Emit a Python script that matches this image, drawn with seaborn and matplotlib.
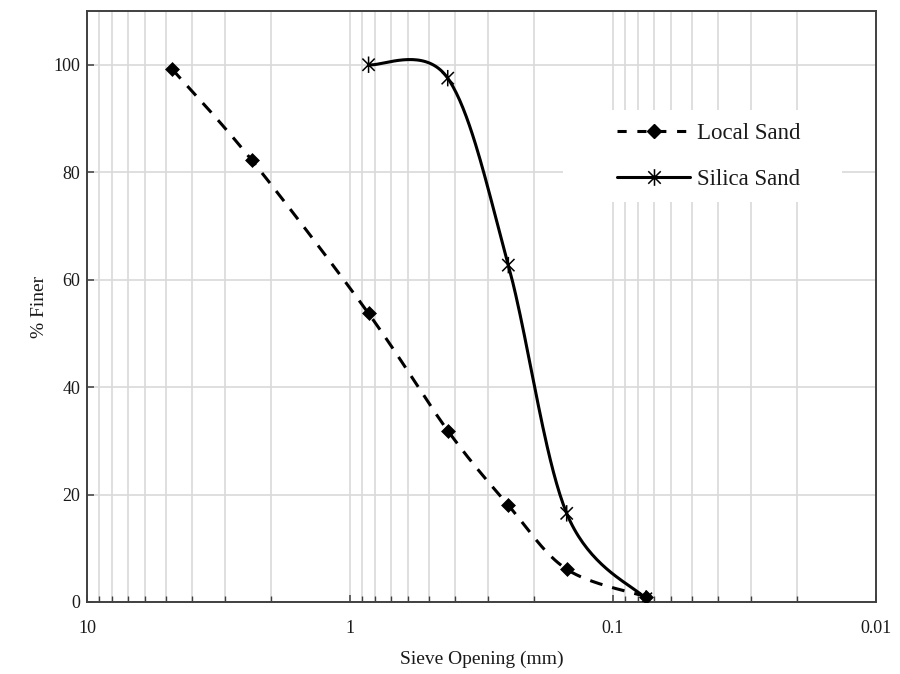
import numpy as np
import matplotlib
matplotlib.use("Agg")
import matplotlib.pyplot as plt
from matplotlib.path import Path
from matplotlib.lines import Line2D
from matplotlib.patches import Rectangle
from matplotlib.ticker import FixedLocator, LogLocator, NullFormatter
import seaborn as sns

# Sieve analysis results
local_size = [4.75, 2.36, 0.85, 0.425, 0.25, 0.15, 0.075]
local_finer = [99.2, 82.2, 53.7, 31.9, 18.0, 6.1, 1.0]
silica_size = [0.85, 0.425, 0.25, 0.15, 0.075]
silica_finer = [100.0, 97.5, 62.7, 16.5, 0.6]

x_ticks = [10, 1, 0.1, 0.01]
x_tick_labels = ["10", "1", "0.1", "0.01"]
y_ticks = [0, 20, 40, 60, 80, 100]

sns.set_theme(style="white")
plt.rcParams['font.family'] = ['Liberation Serif', 'DejaVu Serif']

TEXT = '#1a1a1a'
LW = 2.2
W, H = 900, 674
fig = plt.figure(figsize=(W / 100, H / 100), dpi=100)
ax = fig.add_axes([87 / W, (H - 602) / H, (876 - 87) / W, (602 - 11) / H])
ax.set_xscale('log')
ax.set_xlim(10, 0.01)
ax.set_ylim(0, 110)

# grid: major + minor verticals, major horizontals
ax.xaxis.set_major_locator(FixedLocator(x_ticks))
ax.xaxis.set_minor_locator(LogLocator(base=10, subs=np.arange(2, 10)))
ax.xaxis.set_minor_formatter(NullFormatter())
ax.set_xticklabels(x_tick_labels)
ax.yaxis.set_major_locator(FixedLocator(y_ticks))
ax.set_axisbelow(True)
ax.grid(True, which='major', axis='both', color='#d9d9d9', lw=1.2)
ax.grid(True, which='minor', axis='x', color='#d9d9d9', lw=1.2)

for s in ax.spines.values():
    s.set_color('#404040')
    s.set_linewidth(1.4)
ax.tick_params(axis='both', which='major', direction='in', length=5, width=1.1,
               color='#404040', labelsize=13, labelcolor=TEXT, pad=5,
               bottom=True, left=True)
ax.tick_params(axis='x', which='major', pad=13)
ax.tick_params(axis='x', which='minor', direction='in', length=4, width=1.0,
               color='#404040', bottom=True)


def smooth_curve(xs, ys, n=40):
    """Bezier smoothing through the points, computed in display space."""
    pts = ax.transData.transform(np.column_stack([xs, ys]))
    m = len(pts)
    out = [pts[0]]
    t = np.linspace(0, 1, n)[1:, None]
    for i in range(m - 1):
        p0 = pts[i - 1] if i > 0 else pts[i]
        p1, p2 = pts[i], pts[i + 1]
        p3 = pts[i + 2] if i + 2 < m else pts[i + 1]
        c1 = p1 + (p2 - p0) / 6
        c2 = p2 - (p3 - p1) / 6
        seg = ((1 - t) ** 3) * p1 + 3 * ((1 - t) ** 2) * t * c1 \
            + 3 * (1 - t) * t ** 2 * c2 + t ** 3 * p2
        out.extend(seg)
    data = ax.transData.inverted().transform(np.array(out))
    return data[:, 0], data[:, 1]


# asterisk-style marker: vertical stroke plus an X
star = Path([(0, -1), (0, 1), (-0.75, -0.75), (0.75, 0.75), (-0.75, 0.75), (0.75, -0.75)],
            [Path.MOVETO, Path.LINETO, Path.MOVETO, Path.LINETO, Path.MOVETO, Path.LINETO])

dash = (0, (4.2, 3.3))
lx, ly = smooth_curve(local_size, local_finer)
sns.lineplot(x=lx, y=ly, ax=ax, color='black', lw=LW, linestyle=dash,
             sort=False, estimator=None, dash_capstyle='butt', zorder=3)
sx, sy = smooth_curve(silica_size, silica_finer)
sns.lineplot(x=sx, y=sy, ax=ax, color='black', lw=LW,
             sort=False, estimator=None, zorder=3)

sns.scatterplot(x=local_size, y=local_finer, ax=ax, marker='D', s=50,
                color='black', edgecolor='black', linewidth=0.5, zorder=4)
sns.scatterplot(x=silica_size, y=silica_finer, ax=ax, marker=star, s=140,
                color='black', edgecolor='black', facecolor='none', linewidth=1.1, zorder=4)

ax.set_xlabel("Sieve Opening (mm)", fontsize=14, color=TEXT, labelpad=10)
ax.set_ylabel("% Finer", fontsize=14, color=TEXT, labelpad=4)

# white background behind the legend
fig_to_ax = ax.transAxes.inverted()
(x0, y0) = fig_to_ax.transform(fig.transFigure.transform((563 / W, (H - 202) / H)))
(x1, y1) = fig_to_ax.transform(fig.transFigure.transform((842 / W, (H - 110) / H)))
ax.add_patch(Rectangle((x0, y0), x1 - x0, y1 - y0, transform=ax.transAxes,
                       facecolor='white', edgecolor='none', zorder=2))

handles = [
    Line2D([], [], color='black', lw=LW, linestyle=(0, (3, 3.5)), marker='D',
           markersize=7, dash_capstyle='butt'),
    Line2D([], [], color='black', lw=LW, marker=star, markersize=12,
           markeredgewidth=1.1, markerfacecolor='none'),
]
leg = ax.legend(handles, ["Local Sand", "Silica Sand"], loc='upper left',
                bbox_to_anchor=((617 - 87) / 789, (602 - 123) / 591),
                frameon=False, fontsize=16.5, handlelength=3.2, handletextpad=0.3,
                labelspacing=1.1, borderpad=0, borderaxespad=0)
for txt in leg.get_texts():
    txt.set_color(TEXT)

fig.savefig("out.png", dpi=100)
